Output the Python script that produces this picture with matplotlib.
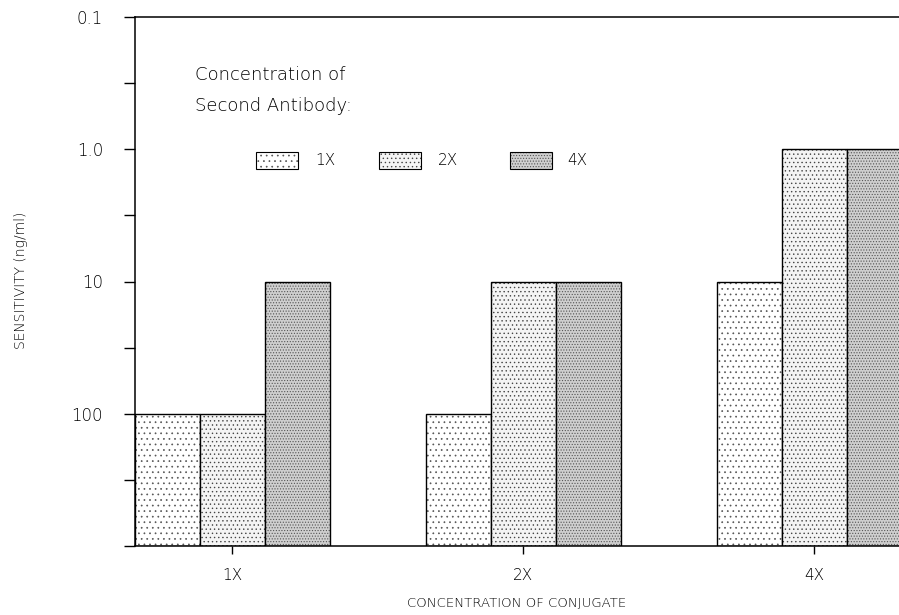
import matplotlib
matplotlib.use("Agg")
import matplotlib.pyplot as plt
import numpy as np
from matplotlib.patches import Rectangle

plt.rcParams['font.family'] = ['DejaVu Sans']
plt.rcParams['font.weight'] = 'light'

groups = ["1X", "2X", "4X"]
series_names = ["1X", "2X", "4X"]
# sensitivity (ng/ml) per conjugate group, for each second-antibody level
sens_1x = [100, 100, 10]
sens_2x = [100, 10, 1.0]
sens_4x = [10, 10, 1.0]
series_values = [sens_1x, sens_2x, sens_4x]

y_ticks = [0.1, 1.0, 10, 100]
y_ticklabels = ["0.1", "1.0", "10", "100"]
y_minor = [0.316, 3.16, 31.6, 316, 1000]

hatches = ["...", "....", "......"]
faces = ["white", "#f4f4f4", "#cfcfcf"]
hatch_cols = ["#555555", "#444444", "#555555"]

W, H = 899, 615
fig = plt.figure(figsize=(W / 100, H / 100), dpi=100)
ax = fig.add_axes([135 / W, 1 - 546 / H, (899 - 135) / W, (546 - 17) / H])

ax.set_yscale("log")
ymin, ymax = 1000, 0.1
bw = 65 / 291
x = np.arange(len(groups))
plt.rcParams['hatch.linewidth'] = 0.5
for i, vals in enumerate(series_values):
    vals = np.array(vals, dtype=float)
    bars = ax.bar(x + (i - 1) * bw, ymin - vals, bottom=vals, width=bw,
                  facecolor=faces[i], edgecolor=hatch_cols[i], linewidth=0,
                  hatch=hatches[i])
    ax.bar(x + (i - 1) * bw, ymin - vals, bottom=vals, width=bw,
           facecolor="none", edgecolor="black", linewidth=1.0)

ax.set_ylim(ymin, ymax)
ax.set_xlim(-1.5 * bw, (899 - 232) / 291)

ax.set_yticks(y_ticks)
ax.set_yticklabels(y_ticklabels, fontsize=12)
ax.set_yticks(y_minor, minor=True)
ax.yaxis.set_minor_formatter(matplotlib.ticker.NullFormatter())
ax.tick_params(axis="y", which="both", direction="out", length=8, width=1.0, pad=15)

ax.set_xticks(x)
ax.set_xticklabels(groups, fontsize=11)
ax.tick_params(axis="x", direction="out", length=6, width=1.0, pad=10)

for s in ["left", "bottom", "top"]:
    ax.spines[s].set_linewidth(1.1)
ax.spines["right"].set_visible(False)

fig.text(21 / W, 1 - 280 / H, "SENSITIVITY (ng/ml)", rotation=90, fontsize=10,
         ha="center", va="center")
fig.text(517 / W, 1 - 603 / H, "CONCENTRATION OF CONJUGATE", fontsize=9.5,
         ha="center", va="center")

# legend
fig.text(195 / W, 1 - 75 / H, "Concentration of", fontsize=13, ha="left", va="center")
fig.text(195 / W, 1 - 106 / H, "Second Antibody:", fontsize=13, ha="left", va="center")
box_x = [256, 379, 510]
txt_x = [315, 438, 567]
for i, name in enumerate(series_names):
    r = Rectangle((box_x[i] / W, 1 - 169 / H), 42 / W, 17 / H,
                  transform=fig.transFigure, facecolor=faces[i],
                  edgecolor=hatch_cols[i], linewidth=0, hatch=hatches[i])
    fig.patches.append(r)
    r2 = Rectangle((box_x[i] / W, 1 - 169 / H), 42 / W, 17 / H,
                   transform=fig.transFigure, facecolor="none",
                   edgecolor="black", linewidth=0.8)
    fig.patches.append(r2)
    fig.text(txt_x[i] / W, 1 - 160 / H, name, fontsize=11, ha="left", va="center")

fig.savefig("out.png", dpi=100)
